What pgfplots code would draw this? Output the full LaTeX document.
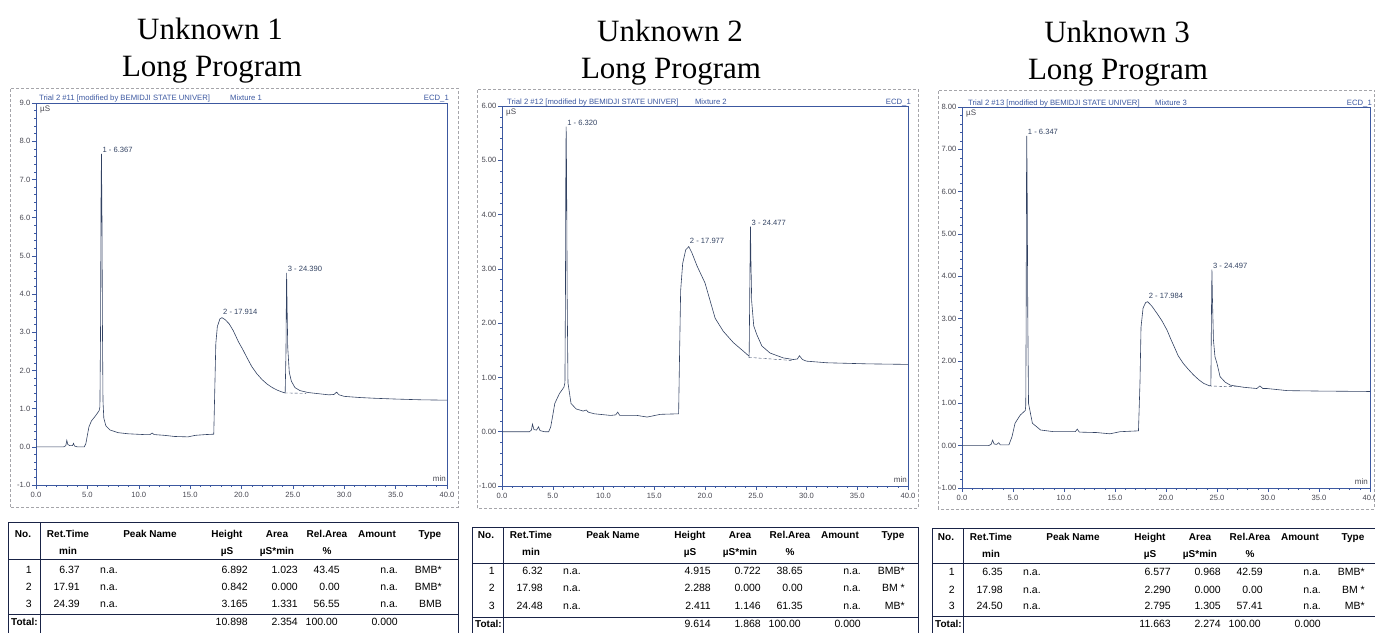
\documentclass[border=0pt]{standalone}
\usepackage{pgfplots}
\pgfplotsset{compat=1.18}
\usepackage{fontspec}
\setmainfont{Liberation Sans}
\newfontfamily\seriffont{Liberation Serif}
\definecolor{trace}{RGB}{50,66,98}
\definecolor{axblue}{RGB}{60,88,160}
\definecolor{tickgray}{RGB}{70,70,80}
\definecolor{tabline}{RGB}{25,35,70}
\definecolor{boxgray}{RGB}{165,165,170}

\pgfplotsset{
  chrom/.style={
    scale only axis,
    anchor=south west,
    clip=false,
    xmin=0, xmax=40,
    xtick={0,5,...,40},
    minor x tick num=4,
    minor y tick num=4,
    xtick pos=left, ytick pos=left,
    tick align=outside,
    major tick length=4pt,
    minor tick length=2pt,
    axis line style={draw=axblue, line width=0.6pt},
    every tick/.style={axblue, line width=0.5pt},
    tick label style={font=\fontsize{7.6}{9}\selectfont, text=tickgray, inner sep=1.5pt},
    /pgf/number format/assume math mode=true,
    xticklabel style={/pgf/number format/fixed, /pgf/number format/fixed zerofill, /pgf/number format/precision=1, yshift=-1pt},
  },
}
\tikzset{
  peak/.style={anchor=south west, font=\fontsize{7.6}{8}\selectfont, text=trace, inner sep=1pt},
  hdr/.style={font=\fontsize{7.7}{8}\selectfont, text=axblue, inner sep=0pt},
}

\newcommand{\tabframe}[6]{% left, sep, right, top, hdrline, totline
  \draw[tabline, line width=0.9pt] (#1,-2) -- (#1,632-#4) -- (#3,632-#4) -- (#3,-2);
  \draw[tabline, line width=0.9pt] (#2,-2) -- (#2,632-#4);
  \draw[tabline, line width=1.0pt] (#1,632-#5) -- (#3,632-#5);
  \draw[tabline, line width=0.9pt] (#1,632-#6) -- (#3,632-#6);
}
\newcommand{\tabhead}[3]{% sep, py1, py2
  \begin{scope}[every node/.style={font=\fontsize{10}{12}\selectfont\bfseries, inner sep=0pt, anchor=mid}]
  \node at (#1-17, 632-#2) {No.};
  \node at (#1+28, 632-#2) {Ret.Time};
  \node at (#1+28, 632-#3) {min};
  \node at (#1+110, 632-#2) {Peak Name};
  \node at (#1+187, 632-#2) {Height};
  \node at (#1+187, 632-#3) {µS};
  \node at (#1+237, 632-#2) {Area};
  \node at (#1+237, 632-#3) {µS*min};
  \node at (#1+287, 632-#2) {Rel.Area};
  \node at (#1+287, 632-#3) {\%};
  \node at (#1+337, 632-#2) {Amount};
  \node at (#1+390, 632-#2) {Type};
  \end{scope}}
\newcommand{\tabrow}[8]{% sep, py, no, rt, h, a, ra, type
  \begin{scope}[every node/.style={font=\fontsize{10.5}{12}\selectfont, inner sep=0pt}]
  \node[anchor=mid east] at (#1-8, 632-#2) {#3};
  \node[anchor=mid east] at (#1+40, 632-#2) {#4};
  \node[anchor=mid west] at (#1+60, 632-#2) {n.a.};
  \node[anchor=mid east] at (#1+208, 632-#2) {#5};
  \node[anchor=mid east] at (#1+258, 632-#2) {#6};
  \node[anchor=mid east] at (#1+300, 632-#2) {#7};
  \node[anchor=mid east] at (#1+358, 632-#2) {n.a.};
  \node[anchor=mid east] at (#1+402, 632-#2) {#8};
  \end{scope}}
\newcommand{\tabtotal}[5]{% left, sep, py, h, a
  \begin{scope}[every node/.style={font=\fontsize{10.5}{12}\selectfont, inner sep=0pt}]
  \node[anchor=mid west, font=\fontsize{10}{12}\selectfont\bfseries] at (#1+3, 632-#3) {Total:};
  \node[anchor=mid east] at (#2+208, 632-#3) {#4};
  \node[anchor=mid east] at (#2+258, 632-#3) {#5};
  \node[anchor=mid east] at (#2+298, 632-#3) {100.00};
  \node[anchor=mid east] at (#2+358, 632-#3) {0.000};
  \end{scope}}

\begin{document}
\begin{tikzpicture}[x=1pt,y=1pt]
% ---------- titles ----------
\begin{scope}[every node/.style={font=\seriffont\fontsize{31}{36}\selectfont, anchor=base, inner sep=0pt}]
\node at (210, 632-40) {Unknown 1};
\node at (212, 632-77) {Long Program};
\node at (670, 632-42) {Unknown 2};
\node at (671, 632-79) {Long Program};
\node at (1117, 632-43) {Unknown 3};
\node at (1118, 632-80) {Long Program};
\end{scope}

% ---------- outer dashed boxes ----------
\draw[boxgray, densely dashed, line width=0.5pt] (10,632-507) rectangle (458,632-88);
\draw[boxgray, densely dashed, line width=0.5pt] (477,632-508) rectangle (918,632-89);
\draw[boxgray, densely dashed, line width=0.5pt] (938,632-509) rectangle (1374.5,632-90);

% ---------- panel 1 ----------
\begin{axis}[chrom, at={(36pt,147pt)}, width=411pt, height=382pt,
  ymin=-1, ymax=9, ytick={-1,0,...,9},
  yticklabel style={/pgf/number format/fixed, /pgf/number format/fixed zerofill, /pgf/number format/precision=1}]
\addplot[trace, line width=0.6pt] coordinates {
(0,0) (2.7,0) (2.9,0.03) (3.0,0.17) (3.1,0.06) (3.3,0.03) (3.55,0.03) (3.65,0.09) (3.75,0.02) (4.0,0) (4.7,0)
(4.85,0.08) (5.0,0.3) (5.15,0.52) (5.4,0.68) (5.7,0.78) (5.95,0.87) (6.15,0.95) (6.22,1.05) (6.28,3.0)
(6.33,6.5) (6.37,7.67) (6.42,6.0) (6.47,3.0) (6.52,1.2) (6.6,0.75) (6.8,0.55) (7.2,0.44) (8.0,0.37) (9.0,0.34)
(10.5,0.32) (11.1,0.32) (11.3,0.36) (11.5,0.32) (12.5,0.3) (13.5,0.27) (14.8,0.26) (15.5,0.3) (16.5,0.32)
(17.3,0.33) (17.4,1.5) (17.5,2.7) (17.65,3.15) (17.9,3.35) (18.1,3.38) (18.4,3.33) (18.8,3.22) (19.2,3.04)
(19.7,2.75) (20.1,2.56) (20.5,2.35) (21.0,2.1) (21.5,1.91) (22.0,1.76) (22.5,1.64) (23.0,1.55) (23.5,1.48)
(24.0,1.43) (24.25,1.41) (24.33,2.5) (24.37,4.0) (24.39,4.55) (24.43,3.8) (24.5,2.6) (24.65,1.95) (24.85,1.72)
(25.2,1.55) (25.7,1.47) (26.5,1.42) (27.5,1.39) (28.5,1.36) (29.0,1.37) (29.25,1.43) (29.5,1.36) (30.0,1.32)
(31.5,1.29) (33,1.27) (35,1.25) (37.5,1.23) (40,1.22)};
\addplot[trace, densely dashed, line width=0.4pt] coordinates {(24.2,1.41) (26.3,1.40)};
\node[peak] at (axis cs:6.37,7.67) {1 - 6.367};
\node[peak] at (axis cs:18.1,3.42) {2 - 17.914};
\node[peak] at (axis cs:24.39,4.55) {3 - 24.390};
\node[hdr, anchor=base west] at (rel axis cs:0,1) [xshift=3pt, yshift=2pt] {Trial 2 \#11 [modified by BEMIDJI STATE UNIVER]};
\node[hdr, anchor=base west] at (rel axis cs:0.472,1) [yshift=2pt] {Mixture 1};
\node[hdr, anchor=base east] at (rel axis cs:1,1) [xshift=2pt, yshift=2pt] {ECD\_1};
\node[anchor=north west, font=\fontsize{8}{9}\selectfont, text=tickgray, inner sep=1pt] at (rel axis cs:0,1) [xshift=3pt, yshift=-2pt] {µS};
\node[anchor=south east, font=\fontsize{8}{9}\selectfont, text=tickgray, inner sep=1pt] at (rel axis cs:1,0) [yshift=2pt] {min};
\end{axis}

% ---------- panel 2 ----------
\begin{axis}[chrom, at={(502pt,146pt)}, width=406pt, height=380pt,
  ymin=-1, ymax=6, ytick={-1,0,...,6},
  yticklabel style={/pgf/number format/fixed, /pgf/number format/fixed zerofill, /pgf/number format/precision=2}]
\addplot[trace, line width=0.6pt] coordinates {
(0,0) (2.7,0) (2.9,0.03) (3.0,0.14) (3.15,0.04) (3.4,0.03) (3.6,0.09) (3.75,0.02) (4.2,0) (4.6,0)
(4.8,0.09) (5.0,0.3) (5.2,0.52) (5.65,0.70) (6.1,0.82) (6.2,0.9) (6.25,2.5) (6.29,5.0) (6.32,5.62) (6.36,4.8)
(6.42,2.5) (6.5,0.9) (6.8,0.52) (7.3,0.42) (8.0,0.38) (8.3,0.40) (8.5,0.36) (9.1,0.33) (10.7,0.30) (11.2,0.31)
(11.4,0.36) (11.6,0.30) (13.3,0.30) (14.3,0.27) (15.6,0.32) (17.4,0.33) (17.5,1.5) (17.6,2.6) (17.8,3.1)
(18.1,3.35) (18.4,3.41) (18.7,3.3) (19.2,3.06) (19.6,2.9) (20.0,2.74) (20.4,2.48) (21.0,2.09) (21.8,1.85)
(22.8,1.64) (23.8,1.48) (24.35,1.39) (24.42,2.8) (24.46,3.5) (24.48,3.78) (24.52,3.2) (24.6,2.4) (24.8,1.95)
(25.1,1.79) (25.6,1.58) (26.4,1.45) (27.7,1.36) (28.7,1.33) (29.1,1.34) (29.3,1.40) (29.6,1.33) (30.0,1.30)
(32,1.27) (36,1.25) (40,1.24)};
\addplot[trace, densely dashed, line width=0.4pt] coordinates {(24.3,1.37) (28.7,1.31)};
\node[peak] at (axis cs:6.32,5.62) {1 - 6.320};
\node[peak] at (axis cs:18.4,3.45) {2 - 17.977};
\node[peak] at (axis cs:24.48,3.78) {3 - 24.477};
\node[hdr, anchor=base west] at (rel axis cs:0,1) [xshift=5pt, yshift=2pt] {Trial 2 \#12 [modified by BEMIDJI STATE UNIVER]};
\node[hdr, anchor=base west] at (rel axis cs:0.475,1) [yshift=2pt] {Mixture 2};
\node[hdr, anchor=base east] at (rel axis cs:1,1) [xshift=3pt, yshift=2pt] {ECD\_1};
\node[anchor=north west, font=\fontsize{8}{9}\selectfont, text=tickgray, inner sep=1pt] at (rel axis cs:0,1) [xshift=3pt, yshift=-2pt] {µS};
\node[anchor=south east, font=\fontsize{8}{9}\selectfont, text=tickgray, inner sep=1pt] at (rel axis cs:1,0) [yshift=2pt] {min};
\end{axis}

% ---------- panel 3 ----------
\begin{axis}[chrom, at={(962pt,144pt)}, width=408pt, height=381pt,
  ymin=-1, ymax=8, ytick={-1,0,...,8},
  yticklabel style={/pgf/number format/fixed, /pgf/number format/fixed zerofill, /pgf/number format/precision=2}]
\addplot[trace, line width=0.6pt] coordinates {
(0,0) (2.6,0) (2.85,0.03) (3.0,0.13) (3.15,0.04) (3.4,0.03) (3.6,0.07) (3.75,0.02) (4.6,0.02) (4.9,0.21)
(5.2,0.53) (5.7,0.72) (6.2,0.83) (6.25,0.95) (6.29,3.0) (6.32,6.2) (6.35,7.32) (6.39,6.0) (6.45,3.0) (6.52,1.0)
(6.9,0.53) (7.7,0.37) (9.0,0.33) (11.1,0.33) (11.3,0.39) (11.5,0.32) (13.2,0.31) (14.5,0.28) (15.5,0.33)
(17.3,0.35) (17.45,1.5) (17.55,2.8) (17.75,3.25) (18.0,3.38) (18.2,3.40) (18.6,3.3) (19.1,3.13) (19.6,2.95)
(20.1,2.73) (20.5,2.5) (20.8,2.34) (21.2,2.12) (21.7,1.94) (22.2,1.8) (22.7,1.67) (23.2,1.56) (23.7,1.47)
(24.2,1.42) (24.4,1.42) (24.45,3.0) (24.5,4.16) (24.55,3.5) (24.65,2.5) (24.8,2.1) (25.0,1.94) (25.3,1.63)
(25.8,1.50) (26.3,1.43) (27.6,1.38) (28.9,1.35) (29.2,1.41) (29.5,1.35) (29.9,1.35) (31.9,1.30) (35,1.29)
(40,1.28)};
\addplot[trace, densely dashed, line width=0.4pt] coordinates {(24.2,1.41) (27.1,1.39)};
\node[peak] at (axis cs:6.35,7.32) {1 - 6.347};
\node[peak] at (axis cs:18.2,3.45) {2 - 17.984};
\node[peak] at (axis cs:24.5,4.16) {3 - 24.497};
\node[hdr, anchor=base west] at (rel axis cs:0,1) [xshift=6pt, yshift=2pt] {Trial 2 \#13 [modified by BEMIDJI STATE UNIVER]};
\node[hdr, anchor=base west] at (rel axis cs:0.473,1) [yshift=2pt] {Mixture 3};
\node[hdr, anchor=base east] at (rel axis cs:1,1) [xshift=2pt, yshift=2pt] {ECD\_1};
\node[anchor=north west, font=\fontsize{8}{9}\selectfont, text=tickgray, inner sep=1pt] at (rel axis cs:0,1) [xshift=3pt, yshift=-2pt] {µS};
\node[anchor=south east, font=\fontsize{8}{9}\selectfont, text=tickgray, inner sep=1pt] at (rel axis cs:1,0) [xshift=-1pt, yshift=2pt] {min};
\end{axis}

% ---------- tables ----------
\tabframe{8}{40}{458}{522}{559}{614}
\tabhead{40}{535}{552}
\tabrow{40}{571}{1}{6.37}{6.892}{1.023}{43.45}{BMB*}
\tabrow{40}{588}{2}{17.91}{0.842}{0.000}{0.00}{BMB*}
\tabrow{40}{605}{3}{24.39}{3.165}{1.331}{56.55}{BMB}
\tabtotal{8}{40}{623}{10.898}{2.354}

\tabframe{472}{503}{918}{527}{563}{617}
\tabhead{503}{536}{553}
\tabrow{503}{572}{1}{6.32}{4.915}{0.722}{38.65}{BMB*}
\tabrow{503}{589}{2}{17.98}{2.288}{0.000}{0.00}{BM *}
\tabrow{503}{607}{3}{24.48}{2.411}{1.146}{61.35}{MB*}
\tabtotal{472}{503}{625}{9.614}{1.868}

\tabframe{932}{963}{1380}{528}{563}{616}
\tabhead{963}{538}{555}
\tabrow{963}{573}{1}{6.35}{6.577}{0.968}{42.59}{BMB*}
\tabrow{963}{591}{2}{17.98}{2.290}{0.000}{0.00}{BM *}
\tabrow{963}{607}{3}{24.50}{2.795}{1.305}{57.41}{MB*}
\tabtotal{932}{963}{625}{11.663}{2.274}

\pgfresetboundingbox
\path[use as bounding box] (0,0) rectangle (1375,632);
\end{tikzpicture}
\end{document}
